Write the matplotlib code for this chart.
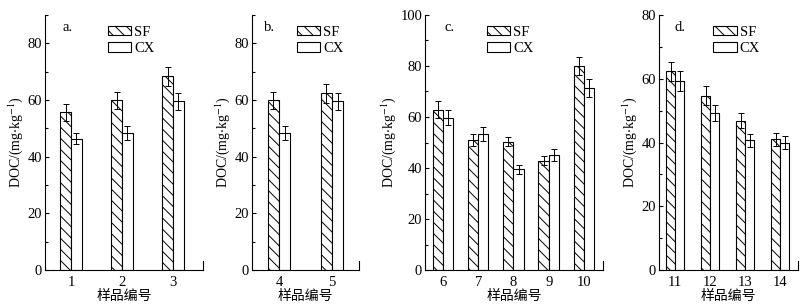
import numpy as np
import matplotlib
matplotlib.use("Agg")
import matplotlib.pyplot as plt
from matplotlib.ticker import MultipleLocator

plt.rcParams['font.family'] = ['Liberation Serif', 'Noto Sans CJK SC']
plt.rcParams['mathtext.fontset'] = 'stix'
plt.rcParams['hatch.linewidth'] = 0.7
plt.rcParams['font.size'] = 10.5

# data
labels_a = ['1', '2', '3']
sf_a = [55.7, 60.0, 68.3]
sf_err_a = [3.0, 3.0, 3.5]
cx_a = [46.3, 48.5, 59.5]
cx_err_a = [2.0, 2.5, 3.0]

labels_b = ['4', '5']
sf_b = [60.0, 62.3]
sf_err_b = [3.0, 3.5]
cx_b = [48.5, 59.5]
cx_err_b = [2.5, 3.0]

labels_c = ['6', '7', '8', '9', '10']
sf_c = [62.8, 51.0, 50.3, 42.8, 80.0]
sf_err_c = [3.3, 2.5, 1.8, 1.8, 3.5]
cx_c = [59.7, 53.4, 39.5, 45.2, 71.5]
cx_err_c = [3.0, 2.7, 1.8, 2.3, 3.5]

labels_d = ['11', '12', '13', '14']
sf_d = [62.4, 54.7, 46.9, 41.0]
sf_err_d = [3.0, 3.0, 2.5, 2.0]
cx_d = [59.3, 49.4, 40.7, 40.0]
cx_err_d = [3.0, 2.5, 2.0, 2.0]

panels = [
    ('a.', labels_a, sf_a, sf_err_a, cx_a, cx_err_a),
    ('b.', labels_b, sf_b, sf_err_b, cx_b, cx_err_b),
    ('c.', labels_c, sf_c, sf_err_c, cx_c, cx_err_c),
    ('d.', labels_d, sf_d, sf_err_d, cx_d, cx_err_d),
]

# layout (pixels of the 806x307 figure)
W, H = 806, 307
boxes = [(45, 203), (252, 359), (425, 603), (659, 798)]
ytop = [90, 90, 100, 80]
bar_w = [0.21, 0.21, 0.29, 0.26]
xlims = [(-0.51, 2.59), (-0.51, 1.51), (-0.51, 4.54), (-0.46, 3.51)]
leg_x = [0.38, 0.39, 0.33, 0.37]

fig = plt.figure(figsize=(W / 100, H / 100), dpi=100)

for i, (tag, labs, sf, sfe, cx, cxe) in enumerate(panels):
    x0, x1 = boxes[i]
    ax = fig.add_axes([x0 / W, (H - 270) / H, (x1 - x0) / W, 255 / H])
    x = np.arange(len(labs))
    w = bar_w[i]
    ax.bar(x - w / 2, sf, w, yerr=sfe, color='white', edgecolor='black',
           hatch='\\\\\\', linewidth=0.8, label='SF',
           error_kw=dict(ecolor='black', elinewidth=0.7, capsize=2, capthick=0.7))
    ax.bar(x + w / 2, cx, w, yerr=cxe, color='white', edgecolor='black',
           linewidth=0.8, label='CX',
           error_kw=dict(ecolor='black', elinewidth=0.7, capsize=2, capthick=0.7))

    ax.set_xlim(*xlims[i])
    ax.set_ylim(0, ytop[i])
    ax.set_xticks(x)
    ax.set_xticklabels(labs)
    ax.tick_params(axis='x', length=0, pad=4)
    ax.yaxis.set_major_locator(MultipleLocator(20))
    ax.yaxis.set_minor_locator(MultipleLocator(10))
    ax.tick_params(axis='y', which='major', direction='in', length=3, width=0.8, pad=2)
    ax.tick_params(axis='y', which='minor', direction='in', length=2, width=0.8)

    ax.spines['top'].set_visible(False)
    ax.spines['right'].set_bounds(0, ytop[i] * 0.035)
    for s in ['left', 'bottom', 'right']:
        ax.spines[s].set_linewidth(0.8)

    ax.set_ylabel(r'DOC/(mg$\cdot$kg$^{-1}$)', fontsize=10, labelpad=2)
    ax.set_xlabel('样品编号', fontsize=10, labelpad=0, family=['Noto Sans CJK SC'])
    ax.text(0.11, 0.975, tag, transform=ax.transAxes, ha='left', va='top')
    ax.legend(loc='upper left', bbox_to_anchor=(leg_x[i], 0.97), frameon=False,
              handlelength=1.6, handleheight=0.6, handletextpad=0.2,
              labelspacing=0.25, borderpad=0.2, borderaxespad=0)

plt.savefig('out.png', dpi=100)
